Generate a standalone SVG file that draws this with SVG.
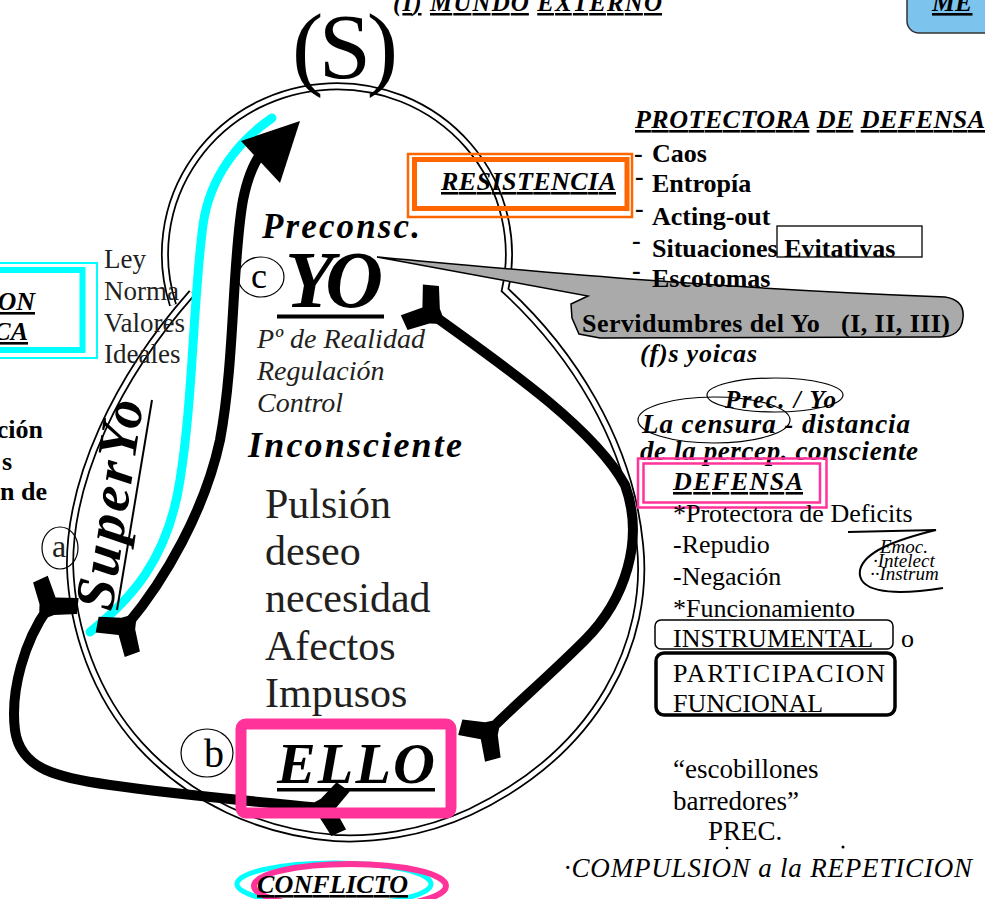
<svg xmlns="http://www.w3.org/2000/svg" width="985" height="899" viewBox="0 0 985 899">
<defs>
<style>
text{font-family:"Liberation Serif","Times New Roman",serif;fill:#000}
.bi{font-weight:bold;font-style:italic}
.b{font-weight:bold}
.i{font-style:italic}
.u{text-decoration:underline}
.g{fill:#231f20}
.dblo{fill:none;stroke:#000;stroke-width:8}
.dbli{fill:none;stroke:#fff;stroke-width:4.5}
.thick{fill:none;stroke:#000;stroke-width:10}
.thin{fill:none;stroke:#000;stroke-width:1.2}
.pink{fill:none;stroke:#ff3399}
.cyan{fill:none;stroke:#00ffff}
.orange{fill:none;stroke:#ff6600}
</style>
<marker id="fork" markerUnits="userSpaceOnUse" viewBox="-40 -40 80 80" markerWidth="80" markerHeight="80" refX="0" refY="0" orient="auto-start-reverse">
<path d="M -8 -5 L -2 -9 L 12 -27 L 26 -19 L 13 0 L 26 19 L 12 27 L -2 9 L -8 5 Z" fill="#000"/>
</marker>
</defs>
<rect width="985" height="899" fill="#fff"/>

<g id="loop">
<path class="dblo" d="M 173 305 A 172 168 0 1 1 505 290 C 570 350, 630 440, 640 545 C 650 640, 600 750, 470 812 C 420 835, 370 840, 335 838 C 260 832, 190 800, 140 745 C 95 695, 72 630, 70 565 C 70 480, 115 380, 192 293"/>
<path class="dbli" d="M 173 305 A 172 168 0 1 1 505 290 C 570 350, 630 440, 640 545 C 650 640, 600 750, 470 812 C 420 835, 370 840, 335 838 C 260 832, 190 800, 140 745 C 95 695, 72 630, 70 565 C 70 480, 115 380, 192 293"/>
</g>

<g id="connectors">
<path id="cyanline" d="M 90 632 C 130 600, 168 560, 180 480 C 193 400, 193 300, 203 225 C 210 175, 240 140, 272 118" fill="none" stroke="#00ffff" stroke-width="9" stroke-linecap="round"/>
<path id="arrowUp" class="thick" d="M 127 625 C 165 580, 205 510, 220 440 C 235 360, 232 260, 243 200 C 247 180, 252 165, 262 152" marker-start="url(#fork)"/>
<polygon points="300,121 241,141 280,183" fill="#000"/>
<path id="arrowRight" class="thick" d="M 433 315 C 510 370, 595 430, 625 485 C 645 540, 625 600, 585 640 C 550 675, 515 705, 490 730" marker-start="url(#fork)" marker-end="url(#fork)"/>
<path id="arrowLeft" class="thick" stroke-width="11" d="M 48 608 C 25 640, 10 690, 15 730 C 20 770, 60 778, 110 785 C 180 795, 260 802, 322 808" marker-start="url(#fork)" marker-end="url(#fork)"/>
</g>

<g id="mundo">
<text x="393" y="11" class="bi" font-size="25" textLength="269"><tspan class="u">(I)</tspan> <tspan class="u">MUNDO</tspan> <tspan class="u">EXTERNO</tspan></text>
</g>
<g id="S">
<text x="292" y="78" font-size="94" textLength="106">(S)</text>
</g>
<g id="me">
<rect x="907" y="-20" width="100" height="53" rx="12" fill="#7cc4ee" stroke="#333" stroke-width="1.5"/>
<text x="932" y="11" class="bi u" font-size="26">ME</text>
</g>

<g id="servidumbres">
<path d="M 377 257 C 500 268, 700 288, 945 297 Q 965 300 963 318 Q 961 337 940 337 L 600 338 L 579 334 L 572 318 L 571 304 L 588 296 Z" fill="#aaaaaa" stroke="#000" stroke-width="1.5"/>
<text x="582" y="332" class="b" font-size="26" xml:space="preserve" textLength="368">Servidumbres del Yo   (I, II, III)</text>
</g>

<g id="protectora">
<text x="635" y="128" class="bi" font-size="26" textLength="350"><tspan class="u">PROTECTORA</tspan> <tspan class="u">DE</tspan> <tspan class="u">DEFENSA</tspan></text>
<text x="634" y="162" class="b" font-size="26">-</text>
<text x="652" y="162" class="b" font-size="26">Caos</text>
<text x="635" y="185" class="b" font-size="26">-</text>
<text x="652" y="192" class="b" font-size="26">Entropía</text>
<text x="635" y="217" class="b" font-size="26">-</text>
<text x="652" y="225" class="b" font-size="26">Acting-out</text>
<text x="632" y="249" class="b" font-size="26">-</text>
<text x="652" y="257" class="b" font-size="26">Situaciones Evitativas</text>
<rect x="777" y="226" width="145" height="31" fill="none" stroke="#000" stroke-width="1.3"/>
<text x="632" y="279" class="b" font-size="26">-</text>
<text x="652" y="287" class="b" font-size="26">Escotomas</text>
</g>

<g id="resistencia">
<rect x="408" y="154" width="224" height="63" class="orange" stroke-width="2.5"/>
<rect x="414.5" y="159.5" width="212.5" height="49" class="orange" stroke-width="5"/>
<text x="441" y="190" class="bi u" font-size="26" textLength="175">RESISTENCIA</text>
</g>

<g id="yo">
<text x="262" y="238" class="bi" font-size="35" textLength="158">Preconsc.</text>
<ellipse cx="261" cy="277" rx="23" ry="20" class="thin" stroke-width="1"/>
<text x="251" y="288" font-size="36">c</text>
<text x="285" y="307" class="bi" font-size="80" textLength="98">YO</text>
<rect x="277" y="314.5" width="107" height="4"/>
<text x="257" y="348" class="i g" font-size="28" textLength="168">Pº de Realidad</text>
<text x="257" y="380" class="i g" font-size="28">Regulación</text>
<text x="257" y="412" class="i g" font-size="28">Control</text>
<text x="248" y="457" class="bi" font-size="36" textLength="214">Inconsciente</text>
<text x="265" y="518" class="g" font-size="42">Pulsión</text>
<text x="265" y="565" class="g" font-size="42">deseo</text>
<text x="265" y="612" class="g" font-size="42">necesidad</text>
<text x="265" y="660" class="g" font-size="42">Afectos</text>
<text x="265" y="707" class="g" font-size="42">Impusos</text>
</g>

<g id="ello">
<rect x="241" y="724" width="210" height="89" rx="5" class="pink" stroke-width="11"/>
<text x="277" y="783" class="bi" font-size="58" textLength="158">ELLO</text>
<rect x="277" y="788" width="158" height="3.5"/>
<ellipse cx="207" cy="753" rx="26" ry="24" class="thin" stroke-width="1"/>
<text x="204" y="767" font-size="40">b</text>
</g>

<g id="superyo">
<ellipse cx="60" cy="548" rx="18" ry="21" class="thin" stroke-width="1"/>
<text x="52" y="557" font-size="32" class="g">a</text>
<text transform="translate(112 612) rotate(-81.5)" class="bi" font-size="56" textLength="212">SuperYo</text>
<line x1="117" y1="610" x2="152" y2="400" stroke="#000" stroke-width="2"/>
<text x="104" y="268" class="g" font-size="27">Ley</text>
<text x="104" y="300" class="g" font-size="27">Norma</text>
<text x="104" y="332" class="g" font-size="27">Valores</text>
<text x="104" y="363" class="g" font-size="27">Ideales</text>
</g>

<g id="leftbox">
<rect x="-10" y="263" width="107" height="95" class="cyan" stroke-width="2"/>
<rect x="-10" y="270" width="92.5" height="80" class="cyan" stroke-width="6"/>
<text x="35" y="310" class="bi u" font-size="26" text-anchor="end">ON</text>
<text x="28" y="340" class="bi u" font-size="26" text-anchor="end">CA</text>
<text x="43" y="438" class="b" font-size="26" text-anchor="end">ción</text>
<text x="12" y="470" class="b" font-size="26" text-anchor="end">s</text>
<text x="47" y="500" class="b" font-size="26" text-anchor="end">n de</text>
</g>

<g id="censura">
<text x="640" y="362" class="bi" font-size="26" textLength="117">(f)s yoicas</text>
<ellipse cx="775" cy="395" rx="68" ry="17" class="thin" stroke-width="1.5"/>
<text x="725" y="408" class="bi" font-size="25" textLength="111">Prec. / Yo</text>
<ellipse cx="714" cy="420" rx="76" ry="23" class="thin" stroke-width="1.5"/>
<text x="642" y="433" class="bi" font-size="27" textLength="268">La censura - distancia</text>
<text x="640" y="460" class="bi" font-size="27" textLength="278">de la percep. consciente</text>
</g>

<g id="defensa">
<rect x="638" y="458.5" width="188.5" height="49" class="pink" stroke-width="2.5"/>
<rect x="643.5" y="463.5" width="176.5" height="39" class="pink" stroke-width="2.5"/>
<text x="673" y="490" class="bi u" font-size="26" textLength="130">DEFENSA</text>
<text x="673" y="522" font-size="26">*Protectora de Deficits</text>
<text x="673" y="553" font-size="26">-Repudio</text>
<text x="673" y="585" font-size="26">-Negación</text>
<text x="673" y="617" font-size="26">*Funcionamiento</text>
<rect x="655" y="620" width="238" height="29" rx="6" fill="none" stroke="#000" stroke-width="1.5"/>
<text x="673" y="647" font-size="26">INSTRUMENTAL</text>
<text x="901" y="647" font-size="26">o</text>
<rect x="656" y="653" width="239" height="62" rx="8" fill="none" stroke="#000" stroke-width="3.5"/>
<text x="673" y="682" font-size="26" textLength="212">PARTICIPACION</text>
<text x="673" y="712" font-size="26">FUNCIONAL</text>
<path d="M 848 532 L 936 530 C 895 540, 864 552, 860 570 C 857 590, 885 597, 943 588" fill="none" stroke="#000" stroke-width="2"/>
<text x="880" y="553" class="i" font-size="19">Emoc.</text>
<text x="873" y="567" class="i" font-size="19">·Intelect</text>
<text x="870" y="580" class="i" font-size="19">··Instrum</text>
</g>

<g id="compulsion">
<text x="673" y="778" font-size="27">“escobillones</text>
<text x="673" y="810" font-size="27">barredores”</text>
<text x="708" y="840" font-size="27">PREC.</text>
<circle cx="727" cy="848" r="1.3"/>
<circle cx="843" cy="847" r="1.5"/>
<text x="564" y="877" class="i" font-size="27" textLength="408">·COMPULSION a la REPETICION</text>
</g>

<g id="conflicto">
<ellipse cx="334" cy="884" rx="97" ry="21" class="cyan" stroke-width="5"/>
<ellipse cx="350" cy="886" rx="96" ry="22" class="pink" stroke-width="6"/>
<text x="257" y="893" class="bi u" font-size="26" textLength="151">CONFLICTO</text>
</g>
</svg>
